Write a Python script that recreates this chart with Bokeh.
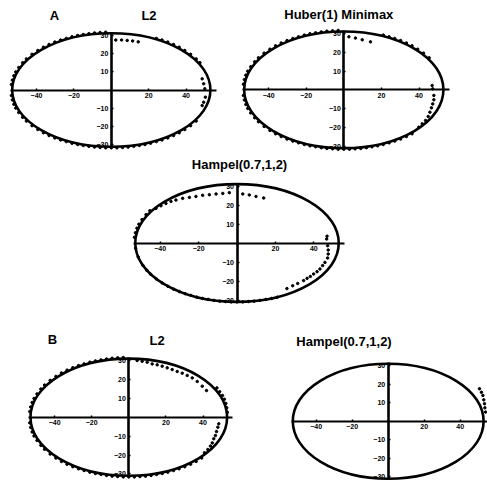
from bokeh.plotting import figure
from bokeh.layouts import column, row
from bokeh.models import Range1d, FixedTicker, Label, Spacer
from bokeh.embed import file_html
from bokeh.resources import INLINE

# ---------------- data ----------------
group_labels = ["A", "B"]
panel_titles = ["L2", "Huber(1) Minimax", "Hampel(0.7,1,2)", "L2", "Hampel(0.7,1,2)"]
x_ticks = [-40, -20, 20, 40]
y_ticks = [-30, -20, -10, 10, 20, 30]
ellipse_half_width = 53
ellipse_half_height = 31

# A: L2
a_l2_x = [-53.4, -52.9, -52.1, -51.1, -49.5, -47.4, -45.4, -42.4, -39.3, -36.3, -33.3, -30.2, -27.1, -24.1,
          -21, -18, -15, -12, -9, -6, -3,
          2.4, 5.5, 8.5, 11.4, 14.4,
          24.1, 27.1, 30.2, 33.3, 36.3, 39.3, 42.4, 45.4, 47.4,
          48.6, 49.4, 50.0, 50.3, 49.4, 48.6,
          -53.4, -52.9, -52.1, -51.1, -49.5, -47.4, -45.4, -42.4, -39.3, -36.3, -33.3, -30.2, -27.1, -24.1,
          -21, -18, -15, -12, -9, -6, -3, 0, 3, 6, 9, 12, 15, 18, 21, 24.1, 27.1, 30.2, 33.3, 36.3,
          39.3, 42.4, 45.4]
a_l2_y = [3.0, 5.4, 7.8, 9.9, 12.3, 14.9, 17.0, 19.5, 21.6, 23.4, 24.9, 26.2, 27.3, 28.2,
          29.1, 29.8, 30.3, 30.8, 31.2, 31.4, 31.6,
          27.3, 27.3, 27.1, 26.8, 26.3,
          28.2, 27.3, 26.2, 24.9, 23.4, 21.6, 19.5, 17.0, 14.9,
          6.1, 3.4, 0.7, -3.9, -6.7, -8.5,
          -3.0, -5.4, -7.8, -9.9, -12.3, -14.9, -17.0, -19.5, -21.6, -23.4, -24.9, -26.2, -27.3, -28.2,
          -29.1, -29.8, -30.3, -30.8, -31.2, -31.4, -31.6, -31.6, -31.6, -31.4, -31.2, -30.8, -30.3,
          -29.8, -29.1, -28.2, -27.3, -26.2, -24.9, -23.4, -21.6, -19.5, -17.0]

# A: Huber(1) Minimax
a_huber_x = [-53.4, -52.9, -52.1, -51.1, -49.5, -47.4, -45.4, -42.4, -39.3, -36.3, -33.3, -30.2, -27.1, -24.1,
             -21, -18, -15, -12, -9, -6, -3,
             2.7, 6.2, 9.8, 14.2,
             21, 24.1, 27.1, 30.2, 33.3, 36.3, 39.3, 42.4, 45.4,
             47.0, 47.3, 47.9, 47.9, 47.3, 46.6, 45.8, 44.9, 43.5, 41.7, 39.9,
             -53.4, -52.9, -52.1, -51.1, -49.5, -47.4, -45.4, -42.4, -39.3, -36.3, -33.3, -30.2, -27.1, -24.1,
             -21, -18, -15, -12, -9, -6, -3, 0, 3, 6, 9, 12, 15, 18, 21, 24.1, 27.1, 30.2, 33.3, 36.3]
a_huber_y = [3.0, 5.4, 7.8, 9.9, 12.3, 14.9, 17.0, 19.5, 21.6, 23.4, 24.9, 26.2, 27.3, 28.2,
             29.1, 29.8, 30.3, 30.8, 31.2, 31.4, 31.6,
             28.2, 27.5, 26.6, 25.5,
             29.1, 28.2, 27.3, 26.2, 24.9, 23.4, 21.6, 19.5, 17.0,
             2.3, 0.5, -3.0, -5.3, -7.5, -9.6, -11.9, -14.2, -16.3, -18.1, -19.9,
             -3.0, -5.4, -7.8, -9.9, -12.3, -14.9, -17.0, -19.5, -21.6, -23.4, -24.9, -26.2, -27.3, -28.2,
             -29.1, -29.8, -30.3, -30.8, -31.2, -31.4, -31.6, -31.6, -31.6, -31.4, -31.2, -30.8, -30.3,
             -29.8, -29.1, -28.2, -27.3, -26.2, -24.9, -23.4]

# A: Hampel(0.7,1,2)
a_hampel_x = [-53.4, -52.9, -52.1, -51.1, -49.5, -47.4, -45.4,
              -42.2, -39.6, -37.0, -34.4, -31.8, -28.3, -24.8, -21.4, -17.9, -14.4, -10.9, -7.4, -4.0,
              3.0, 6.4, 9.9, 13.9,
              46.9, 46.7, 47.2, 47.5, 47.5, 47.2, 45.8, 44.6, 43.2, 41.7, 39.9, 38.2, 36.5, 34.7, 31.6, 29.0, 26.0,
              -52.8, -51.5, -49, -47, -45, -42, -39, -36, -33, -30, -27, -24, -21, -18, -15, -12, -9, -6, -3,
              0, 3, 6, 9, 12, 15, 18, 21]
a_hampel_y = [3.0, 5.4, 7.8, 9.9, 12.3, 14.9, 17.0,
              18.2, 19.6, 20.8, 21.9, 22.6, 23.5, 24.0, 24.5, 25.1, 25.4, 25.8, 26.1, 26.5,
              25.8, 25.3, 24.5, 23.7,
              3.6, 2.1, -1.4, -3.7, -5.8, -7.9, -10.2, -11.9, -13.7, -15.1, -16.3, -17.6, -18.6, -19.8, -21.3,
              -22.5, -24.0,
              -2.7, -7.3, -11.8, -14.3, -16.4, -18.9, -21.0, -22.8, -24.3, -25.6, -26.7, -27.6, -28.5, -29.2,
              -29.7, -30.2, -30.6, -30.8, -31.0, -31.0, -31.0, -30.8, -30.6, -30.2, -29.7, -29.2, -28.5]

# B: L2
b_l2_x = [-53.4, -52.9, -52.1, -51.1, -49.5, -47.4, -45.4, -42.4, -39.3, -36.3, -33.3, -30.2, -27.1, -24.1,
          -21, -18, -15, -12, -9, -6, -3,
          4.5, 7.2, 9.9, 12.6, 15.3, 18.0, 20.7, 23.4, 26.1, 28.8, 31.5, 34.2, 36.9, 39.6, 41.9,
          47.5, 49.0, 50.5, 51.5, 52.3, 52.8, 53.1,
          48.5, 48.0, 47.3, 46.7, 45.8, 45.0, 44.0, 42.6, 40.8,
          -53.4, -52.9, -52.1, -51.1, -49.5, -47.4, -45.4, -42.4, -39.3, -36.3, -33.3, -30.2, -27.1, -24.1,
          -21, -18, -15, -12, -9, -6, -3, 0, 3, 6, 9, 12, 15, 18, 21, 24.1, 27.1, 30.2, 33.3, 36.3, 39.3]
b_l2_y = [3.0, 5.4, 7.8, 9.9, 12.3, 14.9, 17.0, 19.5, 21.6, 23.4, 24.9, 26.2, 27.3, 28.2,
          29.1, 29.8, 30.3, 30.8, 31.2, 31.4, 31.6,
          30.0, 29.6, 29.1, 28.2, 27.7, 27.0, 26.1, 25.2, 24.2, 23.3, 22.1, 20.8, 18.9, 16.4, 14.1,
          15.5, 13.5, 11.5, 9.5, 7.3, 5.0, 2.6,
          -3.5, -5.3, -7.6, -9.7, -11.4, -13.6, -15.3, -17.1, -18.8,
          -3.0, -5.4, -7.8, -9.9, -12.3, -14.9, -17.0, -19.5, -21.6, -23.4, -24.9, -26.2, -27.3, -28.2,
          -29.1, -29.8, -30.3, -30.8, -31.2, -31.4, -31.6, -31.6, -31.6, -31.4, -31.2, -30.8, -30.3,
          -29.8, -29.1, -28.2, -27.3, -26.2, -24.9, -23.4, -21.6]

# B: Hampel(0.7,1,2)
b_hampel_x = [50.7, 51.8, 52.6, 53.1, 53.5, 53.7, 54.1]
b_hampel_y = [17.5, 15.6, 13.9, 11.5, 9.4, 7.2, 4.9]

# ---------------- drawing ----------------
FONT = "Liberation Sans"


def make_panel(box, origin, scale, title, title_pos, xs, ys, group=None, group_pos=None):
    left, top, w, h = box
    ox, oy = origin
    sx, sy = scale
    p = figure(width=w, height=h,
               x_range=Range1d((left - ox) / sx, (left + w - ox) / sx),
               y_range=Range1d((oy - (top + h)) / sy, (oy - top) / sy),
               output_backend="svg", toolbar_location=None, min_border=0,
               outline_line_color=None, background_fill_color="white", border_fill_color="white")
    p.grid.visible = False

    for ax in (p.xaxis[0], p.yaxis[0]):
        ax.fixed_location = 0
        ax.major_label_text_font = FONT
        ax.major_label_text_font_size = "7px"
        ax.major_label_text_font_style = "bold"
        ax.major_label_text_color = "black"
        ax.axis_line_color = "black"
        ax.major_tick_line_color = "black"
        ax.major_tick_line_width = 1.5
        ax.major_tick_in = 2
        ax.major_tick_out = 0
        ax.minor_tick_in = 0
        ax.minor_tick_out = 0
    p.xaxis[0].ticker = FixedTicker(ticks=x_ticks, minor_ticks=[])
    p.yaxis[0].ticker = FixedTicker(ticks=y_ticks, minor_ticks=[])
    p.xaxis[0].bounds = (-54, 56)
    p.yaxis[0].bounds = (-31.4, 31.4)
    p.xaxis[0].axis_line_width = 1.8
    p.yaxis[0].axis_line_width = 2.6
    p.xaxis[0].major_label_standoff = 3
    p.yaxis[0].major_label_standoff = 3

    p.ellipse(x=0, y=0, width=2 * ellipse_half_width, height=2 * ellipse_half_height,
              fill_color=None, line_color="black", line_width=2.6)
    p.scatter(x=xs, y=ys, size=2.5, marker="circle", color="black")

    def to_data(px, py):
        return (px - ox) / sx, (oy - py) / sy

    tx, ty = to_data(*title_pos)
    p.add_layout(Label(x=tx, y=ty, text=title, text_align="center", text_baseline="middle",
                       text_font=FONT, text_font_size="13px", text_font_style="bold",
                       text_color="black"))
    if group is not None:
        gx, gy = to_data(*group_pos)
        p.add_layout(Label(x=gx, y=gy, text=group, text_align="center", text_baseline="middle",
                           text_font=FONT, text_font_size="13px", text_font_style="bold",
                           text_color="black"))
    return p


pa1 = make_panel((0, 0, 240, 155), (110.8, 89.5), (1.87, 1.83), panel_titles[0], (148.5, 15),
                 a_l2_x, a_l2_y, group_labels[0], (54, 15))
pa2 = make_panel((240, 0, 247, 155), (343.3, 89.3), (1.88, 1.88), panel_titles[1], (338.3, 14),
                 a_huber_x, a_huber_y)
pa3 = make_panel((120, 155, 240, 163), (236.5, 242.5), (1.92, 1.9), panel_titles[2], (239, 164),
                 a_hampel_x, a_hampel_y)
pb1 = make_panel((0, 318, 245, 163), (128.3, 416.7), (1.855, 1.89), panel_titles[3], (156.7, 340),
                 b_l2_x, b_l2_y, group_labels[1], (52, 339))
pb2 = make_panel((245, 318, 242, 163), (387.7, 420.7), (1.8, 1.855), panel_titles[4], (343.5, 341),
                 b_hampel_x, b_hampel_y)

layout = column(row(pa1, pa2), row(Spacer(width=120, height=163), pa3), row(pb1, pb2))
open("out.html", "w").write(file_html(layout, INLINE))
